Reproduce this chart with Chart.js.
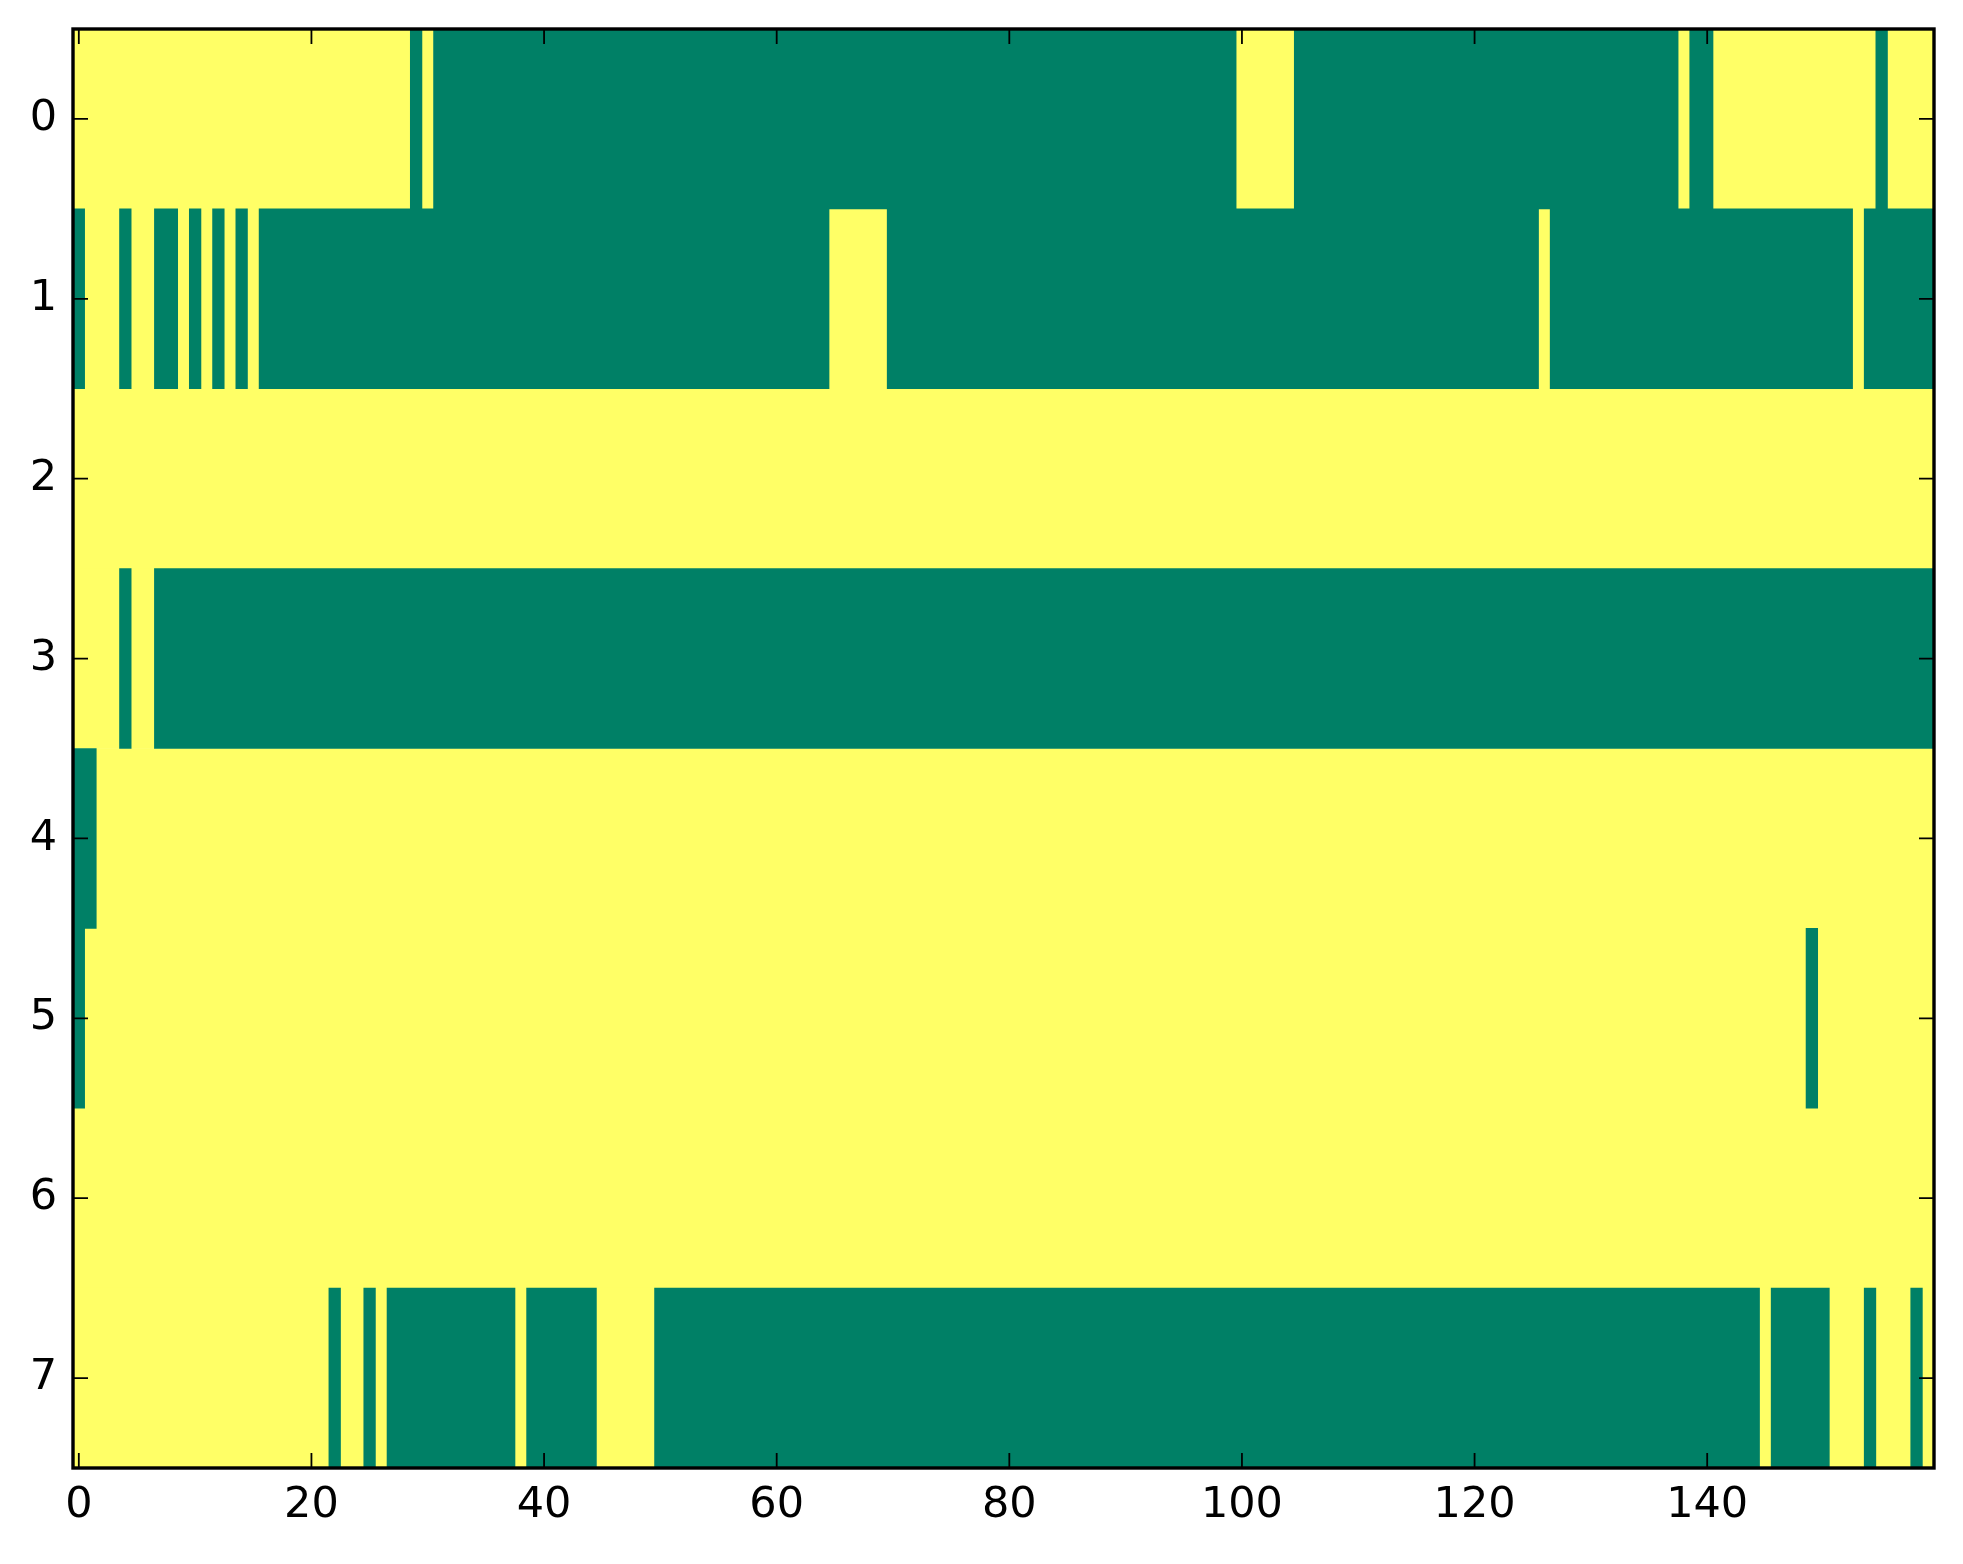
<!DOCTYPE html>
<html>
<head>
<meta charset="utf-8">
<script src="https://cdn.jsdelivr.net/npm/chart.js@4.4.1/dist/chart.umd.min.js"></script>
<style>
html, body { margin: 0; padding: 0; background: #fff; }
</style>
</head>
<body>
<canvas id="heatChart" width="1963" height="1564"></canvas>
<script>
const nCols = 160;
const rowLabels = [0, 1, 2, 3, 4, 5, 6, 7];
const xTicks = [0, 20, 40, 60, 80, 100, 120, 140];

// columns holding value 0 (green), as [first, last] runs; everything else is 1 (yellow)
const row0Low = [[29, 29], [31, 99], [105, 137], [139, 140], [155, 155]];
const row1Low = [[0, 0], [4, 4], [7, 8], [10, 10], [12, 12], [14, 14], [16, 64], [70, 125], [127, 152], [154, 159]];
const row2Low = [];
const row3Low = [[4, 4], [7, 159]];
const row4Low = [[0, 1]];
const row5Low = [[0, 0], [149, 149]];
const row6Low = [];
const row7Low = [[22, 22], [25, 25], [27, 37], [39, 44], [50, 144], [146, 150], [154, 154], [158, 158]];
const lowRuns = [row0Low, row1Low, row2Low, row3Low, row4Low, row5Low, row6Low, row7Low];

const lowColor = 'rgb(0, 128, 102)';
const highColor = 'rgb(255, 255, 102)';
const tickFont = { family: 'DejaVu Sans', size: 43 };

// expand each row to cells, then merge equal neighbours into floating bars
const lowBars = [];
const highBars = [];
lowRuns.forEach((runs, r) => {
    const cells = new Array(nCols).fill(1);
    runs.forEach(([a, b]) => {
        for (let c = a; c <= b; c++) cells[c] = 0;
    });
    let start = 0;
    for (let c = 1; c <= nCols; c++) {
        if (c === nCols || cells[c] !== cells[start]) {
            const bar = { x: [start - 0.5, c - 0.5], y: rowLabels[r] };
            (cells[start] === 0 ? lowBars : highBars).push(bar);
            start = c;
        }
    }
});

const tickLen = 15;
const framePlugin = {
    id: 'frame',
    afterDatasetsDraw(chart) {
        const { ctx, chartArea: a, scales } = chart;
        ctx.save();
        ctx.strokeStyle = '#000';
        ctx.lineWidth = 1.8;
        ctx.beginPath();
        xTicks.forEach(v => {
            const px = scales.x.getPixelForValue(v);
            ctx.moveTo(px, a.top); ctx.lineTo(px, a.top + tickLen);
            ctx.moveTo(px, a.bottom); ctx.lineTo(px, a.bottom - tickLen);
        });
        rowLabels.forEach(v => {
            const py = scales.y.getPixelForValue(v);
            ctx.moveTo(a.left, py); ctx.lineTo(a.left + tickLen, py);
            ctx.moveTo(a.right, py); ctx.lineTo(a.right - tickLen, py);
        });
        ctx.stroke();
        ctx.lineWidth = 3.4;
        ctx.strokeRect(a.left, a.top, a.right - a.left, a.bottom - a.top);
        ctx.restore();
    }
};

const barStyle = {
    grouped: false,
    borderWidth: 0,
    barPercentage: 1,
    categoryPercentage: 1
};

new Chart(document.getElementById('heatChart').getContext('2d'), {
    type: 'bar',
    data: {
        datasets: [
            Object.assign({ label: '0', data: lowBars, backgroundColor: lowColor }, barStyle),
            Object.assign({ label: '1', data: highBars, backgroundColor: highColor }, barStyle)
        ]
    },
    options: {
        responsive: false,
        animation: false,
        devicePixelRatio: 1,
        indexAxis: 'y',
        layout: { padding: { left: 0, top: 29, right: 29, bottom: 0 } },
        plugins: { legend: { display: false }, tooltip: { enabled: false } },
        scales: {
            x: {
                type: 'linear',
                min: -0.5,
                max: 159.5,
                offset: false,
                grid: { display: false, drawTicks: false },
                border: { display: false },
                ticks: { font: tickFont, color: '#000', padding: 12, autoSkip: false, maxRotation: 0, callback: v => String(v) },
                afterBuildTicks: s => { s.ticks = xTicks.map(v => ({ value: v })); },
                afterFit: s => { s.height = 96; s.paddingLeft = 0; s.paddingRight = 0; }
            },
            y: {
                type: 'linear',
                reverse: true,
                min: -0.5,
                max: 7.5,
                offset: false,
                grid: { display: false, drawTicks: false },
                border: { display: false },
                ticks: { font: tickFont, color: '#000', padding: 16, autoSkip: false, callback: v => String(v) },
                afterBuildTicks: s => { s.ticks = rowLabels.map(v => ({ value: v })); },
                afterFit: s => { s.width = 73; s.paddingTop = 0; s.paddingBottom = 0; }
            }
        }
    },
    plugins: [framePlugin]
});
</script>
</body>
</html>
